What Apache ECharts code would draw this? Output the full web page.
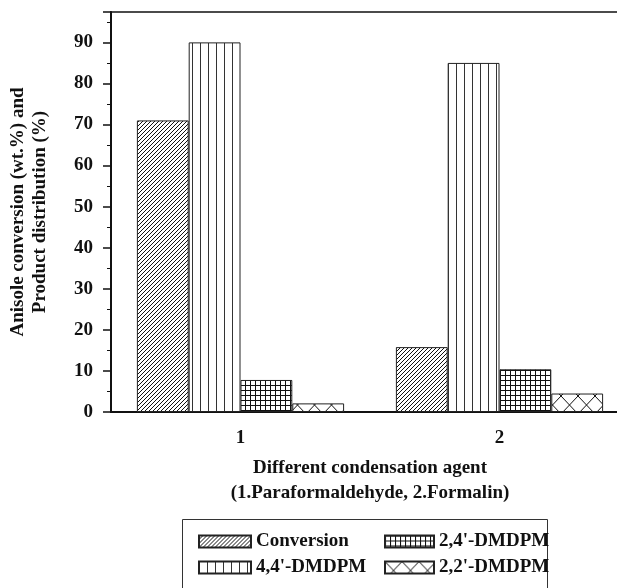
<!DOCTYPE html>
<html>
<head>
<meta charset="utf-8">
<script src="https://cdn.jsdelivr.net/npm/echarts@6/dist/echarts.min.js"></script>
<style>
  html, body { margin: 0; padding: 0; background: #fff; }
  #main { width: 617px; height: 588px; }
</style>
</head>
<body>
<div id="main"></div>
<script>
var categories = ['1', '2'];
var seriesNames = ['Conversion', "4,4'-DMDPM", "2,4'-DMDPM", "2,2'-DMDPM"];
var conversion = [71, 15.8];
var dmdpm44 = [90, 85];
var dmdpm24 = [7.8, 10.4];
var dmdpm22 = [2.1, 4.5];
var yTicks = { min: 0, max: 97.4, interval: 10 };

var FONT = 'Liberation Serif';

// build a repeating tile for the bar fills
function tile(size, draw) {
  var c = document.createElement('canvas');
  c.width = size[0];
  c.height = size[1];
  var ctx = c.getContext('2d');
  ctx.fillStyle = '#fff';
  ctx.fillRect(0, 0, size[0], size[1]);
  ctx.strokeStyle = '#111';
  ctx.lineWidth = 1;
  draw(ctx, size[0], size[1]);
  return { image: c, repeat: 'repeat' };
}

var patterns = [
  tile([4, 4], function(ctx, w, h) {           // ////
    ctx.beginPath();
    ctx.moveTo(-1, h + 1); ctx.lineTo(w + 1, -1);
    ctx.moveTo(-1, 1); ctx.lineTo(1, -1);
    ctx.moveTo(w - 1, h + 1); ctx.lineTo(w + 1, h - 1);
    ctx.stroke();
  }),
  tile([8.5, 4], function(ctx, w, h) {          // ||||
    ctx.strokeStyle = '#333';
    ctx.beginPath();
    ctx.moveTo(0.5, 0); ctx.lineTo(0.5, h);
    ctx.stroke();
  }),
  tile([5, 5], function(ctx, w, h) {            // ####
    ctx.beginPath();
    ctx.moveTo(0.5, 0); ctx.lineTo(0.5, h);
    ctx.moveTo(0, 0.5); ctx.lineTo(w, 0.5);
    ctx.stroke();
  }),
  tile([17, 18], function(ctx, w, h) {          // XXXX
    ctx.beginPath();
    ctx.moveTo(0, h); ctx.lineTo(w, 0);
    ctx.moveTo(0, 0); ctx.lineTo(w, h);
    ctx.stroke();
  })
];

var values = [conversion, dmdpm44, dmdpm24, dmdpm22];
var series = values.map(function(data, i) {
  return {
    name: seriesNames[i],
    type: 'bar',
    data: data,
    barGap: '0%',
    barCategoryGap: '20%',
    itemStyle: { color: patterns[i], borderColor: '#222', borderWidth: 1 }
  };
});

var textBold = { fontFamily: FONT, fontWeight: 'bold', fontSize: 19, color: '#111' };

function legendCol(names, left, w) {
  return {
    data: names,
    orient: 'vertical', left: left, top: 527,
    icon: 'rect',
    itemWidth: w, itemHeight: 12, itemGap: 7,
    textStyle: textBold
  };
}

var chart = echarts.init(document.getElementById('main'));
chart.setOption({
  animation: false,
  // plot runs past the right edge of the picture, like the original
  grid: {
    left: 111, top: 12, width: 518, height: 400,
    outerBoundsMode: 'none', containLabel: false,
    show: true, borderColor: '#111', borderWidth: 1.5
  },
  legend: [
    legendCol([seriesNames[0], seriesNames[1]], 193, 52),
    legendCol([seriesNames[2], seriesNames[3]], 379, 49)
  ],
  graphic: [{
    type: 'rect',
    shape: { x: 182.5, y: 519.5, width: 365, height: 90 },
    style: { fill: 'none', stroke: '#333', lineWidth: 1 }
  }],
  xAxis: [
    {
      type: 'category',
      data: categories,
      axisLine: { lineStyle: { color: '#111', width: 2 } },
      axisTick: { alignWithLabel: true, length: 7, lineStyle: { color: '#111', width: 1.5 } },
      axisLabel: Object.assign({ margin: 17 }, textBold),
      name: 'Different condensation agent\n(1.Paraformaldehyde, 2.Formalin)',
      nameLocation: 'middle',
      nameGap: 44,
      nameTextStyle: Object.assign({ lineHeight: 25, verticalAlign: 'top' }, textBold)
    },
    {
      type: 'category',
      data: categories,
      position: 'bottom',
      axisLine: { show: false },
      axisTick: { inside: true, length: 4, lineStyle: { color: '#111' } },
      axisLabel: { show: false }
    }
  ],
  yAxis: {
    type: 'value',
    min: yTicks.min,
    max: yTicks.max,
    interval: yTicks.interval,
    splitLine: { show: false },
    axisLine: { show: true, lineStyle: { color: '#111', width: 2 } },
    axisTick: { show: true, length: 8, lineStyle: { color: '#111', width: 1.5 } },
    minorTick: { show: true, splitNumber: 2, length: 4, lineStyle: { color: '#111' } },
    axisLabel: Object.assign({ margin: 18, showMaxLabel: false }, textBold),
    name: 'Anisole conversion (wt.%) and\nProduct distribution (%)',
    nameLocation: 'middle',
    nameRotate: 90,
    nameGap: 60,
    nameTextStyle: Object.assign({ lineHeight: 22 }, textBold)
  },
  series: series
});
</script>
</body>
</html>
